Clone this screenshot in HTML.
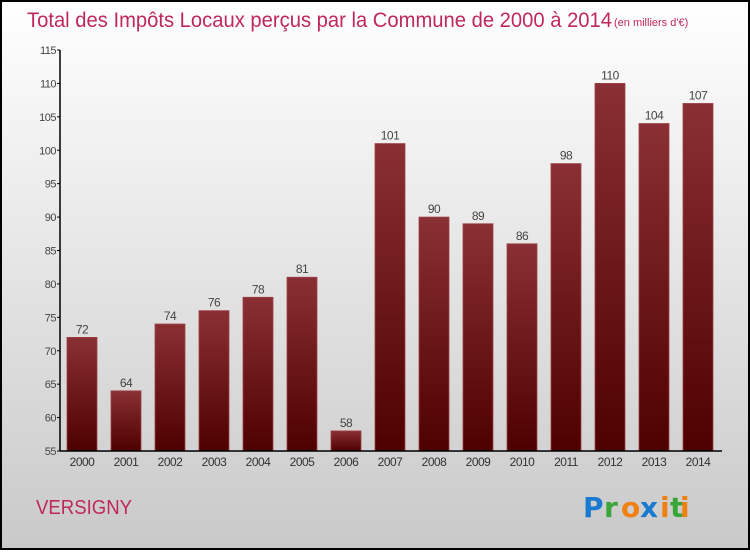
<!DOCTYPE html>
<html><head><meta charset="utf-8"><style>
html,body{margin:0;padding:0}
body{width:750px;height:550px;overflow:hidden;font-family:"Liberation Sans",sans-serif}
</style></head><body>
<svg width="750" height="550" xmlns="http://www.w3.org/2000/svg" id="svg">
<defs>
<linearGradient id="bg" x1="0" y1="0" x2="0" y2="1"><stop offset="0" stop-color="#ffffff"/><stop offset="1" stop-color="#c9c9c9"/></linearGradient>
<linearGradient id="bar" x1="0" y1="0" x2="0" y2="1"><stop offset="0" stop-color="#8a3034"/><stop offset="1" stop-color="#4e0000"/></linearGradient>
</defs>
<rect x="1" y="1" width="748" height="548" fill="url(#bg)" stroke="#000" stroke-width="2"/>
<text x="27" y="27" font-size="21" fill="#c0285a" textLength="585" lengthAdjust="spacingAndGlyphs">Total des Impôts Locaux perçus par la Commune de 2000 à 2014</text>
<text x="614" y="26" font-size="11" fill="#c0285a">(en milliers d'€)</text>
<g id="yaxis"></g>
<g id="bars"></g>
<g id="xaxis"></g>
<text x="36" y="514" font-size="20" fill="#c0285a" textLength="96" lengthAdjust="spacingAndGlyphs">VERSIGNY</text>
<g font-size="28" font-weight="bold" font-family="'DejaVu Sans',sans-serif">
<text x="583" y="517" fill="#1a7ad0">P</text><text x="604" y="517" fill="#3aa63a">r</text><text x="621" y="517" fill="#f08010">o</text><text x="640" y="517" fill="#1a7ad0">x</text><text x="660" y="517" fill="#f08010">i</text><text x="670" y="517" fill="#3aa63a">t</text><text x="680" y="517" fill="#f08010">i</text>
</g>
</svg>
<script>
const years=["2000","2001","2002","2003","2004","2005","2006","2007","2008","2009","2010","2011","2012","2013","2014"];
const values=[72,64,74,76,78,81,58,101,90,89,86,98,110,104,107];
const yTicks=[55,60,65,70,75,80,85,90,95,100,105,110,115];
const NS="http://www.w3.org/2000/svg";
const yMin=55,yMax=115,y0=451,y1=50;
function yScale(v){return y0-(v-yMin)*(y0-y1)/(yMax-yMin);}
function xScale(i){return 82+i*44;}
function mk(tag,attrs,parent){const e=document.createElementNS(NS,tag);for(const k in attrs)e.setAttribute(k,attrs[k]);parent.appendChild(e);return e;}
const ya=document.getElementById('yaxis'),ba=document.getElementById('bars'),xa=document.getElementById('xaxis');
let l=mk('line',{x1:60,y1:y1,x2:60,y2:y0,stroke:'#000','stroke-width':1.5},ya);


yTicks.forEach(t=>{
 const y=yScale(t);
 const tk=mk('line',{x1:57,y1:y,x2:60,y2:y,stroke:'#000'},ya);
 
 
 const tx=mk('text',{x:56,y:y+4,'font-size':11,fill:'#444','text-anchor':'end','letter-spacing':'-0.5'},ya);
 tx.textContent=t;
 
 
});
let xl=mk('line',{x1:60,y1:y0,x2:722,y2:y0,stroke:'#000','stroke-width':1.5},xa);


values.forEach((v,i)=>{
 const cx=xScale(i),top=yScale(v);
 const r=mk('rect',{x:cx-15,y:top,width:30,height:y0-top,fill:'url(#bar)',stroke:'#a04048','stroke-width':0.8},ba);
 
 
 const t=mk('text',{x:cx,y:top-4,'font-size':12,fill:'#444','text-anchor':'middle','letter-spacing':'-0.5'},ba);
 t.textContent=v;
 
 
 const xt=mk('text',{x:cx,y:466,'font-size':12,fill:'#333','text-anchor':'middle','letter-spacing':'-0.5'},xa);
 xt.textContent=years[i];
 
 
});
</script>
</body></html>
